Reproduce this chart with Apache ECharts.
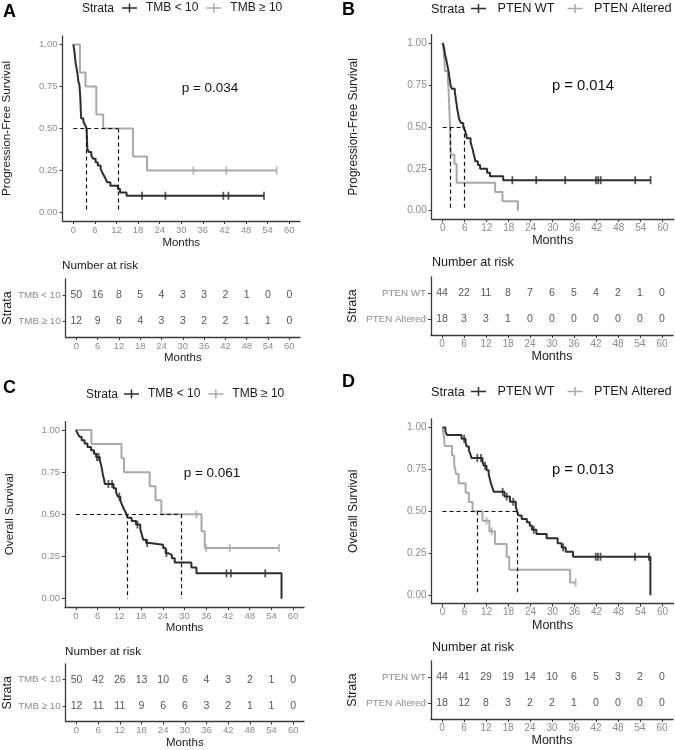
<!DOCTYPE html>
<html><head><meta charset="utf-8">
<script src="https://cdn.jsdelivr.net/npm/echarts@6/dist/echarts.min.js"></script>
<style>html,body{margin:0;padding:0;background:#fff}#c{width:675px;height:750px}</style>
</head><body><div id="c"></div>
<script>
// ---------- shared ticks ----------
const months = [0,6,12,18,24,30,36,42,48,54,60];
const survTicks = [0,0.25,0.5,0.75,1];

// ---------- Panel A : PFS by TMB ----------
const aGroups = ['TMB < 10','TMB ≥ 10'];
const aLowT = [0,0.3,0.5,0.7,0.9,1.2,1.4,1.7,1.9,2.0,2.1,2.2,2.8,3.3,3.7,3.8,3.9,4.3,5.0,5.5,6.2,6.8,7.6,8.0,8.5,9.0,9.4,10.3,12.4,13.0,14.8];
const aLowS = [1,0.96,0.92,0.88,0.86,0.82,0.78,0.76,0.70,0.66,0.60,0.56,0.54,0.52,0.50,0.44,0.38,0.36,0.34,0.32,0.30,0.28,0.26,0.24,0.22,0.20,0.18,0.16,0.14,0.12,0.10];
const aLowEnd = 53.0;
const aLowCens = [19.1,25.6,41.7,43.1,53.0];
const aHighT = [0,1.85,3.4,6.4,8.3,16.6,20.5];
const aHighS = [1,0.833,0.75,0.583,0.5,0.333,0.25];
const aHighEnd = 56.5;
const aHighCens = [33.4,42.5,56.5];
const aMedians = [3.7,12.4];
const aRiskLow  = [50,16,8,5,4,3,3,2,1,0,0];
const aRiskHigh = [12,9,6,4,3,3,2,2,1,1,0];
const aP = 'p = 0.034';

// ---------- Panel B : PFS by PTEN ----------
const bGroups = ['PTEN WT','PTEN Altered'];
const bWtT = [0,0.3,0.5,0.6,0.9,1.1,1.3,1.5,1.7,1.8,2.0,2.1,2.5,3.3,3.5,3.6,3.8,3.9,4.1,4.3,4.5,5.0,5.6,6.1,6.4,6.6,7.6,7.9,8.2,8.4,8.7,8.9,9.6,10.2,12.1,12.9,16.5];
const bWtS = [1,0.977,0.955,0.932,0.909,0.886,0.864,0.841,0.818,0.795,0.773,0.75,0.727,0.705,0.682,0.659,0.636,0.614,0.591,0.568,0.545,0.523,0.5,0.477,0.455,0.432,0.409,0.386,0.364,0.341,0.318,0.295,0.273,0.25,0.227,0.205,0.182];
const bWtEnd = 56.7;
const bWtCens = [19.0,25.5,33.4,41.8,42.4,43.1,52.5,56.7];
const bAltT = [0,0.3,0.5,0.6,1.4,1.6,1.7,1.8,1.9,2.0,2.05,2.1,2.2,3.2,3.8,14.3,16.3,20.5];
const bAltS = [1,0.944,0.889,0.833,0.778,0.722,0.667,0.611,0.556,0.5,0.444,0.389,0.333,0.278,0.167,0.111,0.056,0];
const bAltEnd = 20.5;
const bAltCens = [];
const bMedians = [2.1,5.9];
const bRiskWt  = [44,22,11,8,7,6,5,4,2,1,0];
const bRiskAlt = [18,3,3,1,0,0,0,0,0,0,0];
const bP = 'p = 0.014';

// ---------- Panel C : OS by TMB ----------
const cLowT = [0,0.5,1.0,1.6,2.4,3.2,4.2,5.0,5.6,6.6,6.9,7.1,7.3,7.5,7.8,8.0,10.4,11.1,11.6,12.3,12.8,13.3,13.8,14.3,15.4,16.6,17.8,18.2,18.6,19.4,20.4,24.1,24.8,25.5,26.5,27.3,31.9,33.3,56.8];
const cLowS = [1,0.98,0.96,0.94,0.92,0.90,0.88,0.86,0.84,0.82,0.80,0.78,0.755,0.73,0.705,0.68,0.655,0.63,0.605,0.58,0.555,0.53,0.51,0.48,0.46,0.44,0.41,0.38,0.35,0.33,0.32,0.30,0.27,0.26,0.24,0.215,0.185,0.15,0];
const cLowEnd = 56.8;
const cLowCens = [5.8,6.3,9.0,10.0,12.0,17.0,19.7,25.0,41.6,42.8,52.3];
const cHighT = [0,4.3,12.6,13.3,20.4,22.0,23.6,34.7,35.6];
const cHighS = [1,0.917,0.833,0.75,0.667,0.583,0.5,0.4,0.3];
const cHighEnd = 56.1;
const cHighCens = [33.3,36.0,42.5,56.1];
const cMedians = [14.3,29.2];
const cRiskLow  = [50,42,26,13,10,6,4,3,2,1,0];
const cRiskHigh = [12,11,11,9,6,6,3,2,1,1,0];
const cP = 'p = 0.061';

// ---------- Panel D : OS by PTEN ----------
const dWtT = [0,0.8,1.2,5.2,6.3,6.6,7.2,7.6,7.9,10.9,11.3,12.0,12.6,12.9,13.2,13.6,14.0,16.9,18.4,20.0,20.4,20.8,21.6,23.0,23.8,24.4,25.6,28.4,31.4,32.5,33.6,35.6,56.7];
const dWtS = [1,0.977,0.955,0.932,0.909,0.886,0.864,0.841,0.818,0.795,0.771,0.745,0.72,0.694,0.668,0.642,0.616,0.588,0.557,0.527,0.496,0.475,0.455,0.435,0.414,0.39,0.365,0.34,0.31,0.285,0.26,0.23,0];
const dWtEnd = 56.7;
const dWtCens = [5.9,9.5,10.5,11.6,16.4,17.5,19.3,24.9,32.9,41.8,42.4,43.1,52.5,56.3];
const dAltT = [0,0.4,0.6,2.6,3.2,3.7,4.4,6.3,7.2,8.2,10.9,12.8,14.3,17.5,18.2,34.8];
const dAltS = [1,0.944,0.889,0.833,0.778,0.722,0.667,0.611,0.556,0.5,0.444,0.381,0.305,0.229,0.152,0.076];
const dAltEnd = 36.3;
const dAltCens = [12.0,13.4,36.3];
const dMedians = [9.5,20.45];
const dRiskWt  = [44,41,29,19,14,10,6,5,3,2,0];
const dRiskAlt = [18,12,8,3,2,2,1,0,0,0,0];
const dP = 'p = 0.013';

// ---------- styling / layout ----------
const FONT = '"Liberation Sans", Arial, sans-serif';
const DARK = '#2e2e2e', LIGHT = '#a9a9a9', AXIS = '#3a3a3a', TICKLAB = '#8c8c8c', TXT = '#1a1a1a';
const ICON = 'path://M0,4L16,4L16,5.6L0,5.6Z M7.2,0L8.8,0L8.8,9.6L7.2,9.6Z';

// font sets: left column and right column (right column text is set slightly larger)
const FS_L = {legend:12, p:13.5, months:11.5, nr:11.7, tick:9.5, ytitle:11.7, legPad:4, legGap:8, legW:15};
const FS_R = {legend:12.7, p:14.8, months:12.5, nr:12.6, tick:10, ytitle:11.9, legPad:6, legGap:13, legW:16};

const panels = [
  {letter:'A', lp:[3,12], groups:aGroups, yName:'Progression-Free Survival', fs:FS_L,
   main:{left:62,top:36,width:238,height:185}, risk:{left:62,top:279,width:238,height:58},
   xGap:15.5, rxGap:14.5, yGap:49.5, sGap:50,
   curves:[{T:aLowT,S:aLowS,end:aLowEnd,cens:aLowCens,color:DARK,z:4},{T:aHighT,S:aHighS,end:aHighEnd,cens:aHighCens,color:LIGHT,z:3}],
   medians:aMedians, riskRows:[aRiskLow,aRiskHigh], p:aP, pPos:[210,88],
   strataPos:[82,9], legendPos:[122,9], nrPos:[62,266]},
  {letter:'B', lp:[342,10], groups:bGroups, yName:'Progression-Free Survival', fs:FS_R,
   main:{left:431.7,top:34.6,width:242,height:184.5}, risk:{left:431,top:277,width:242,height:58},
   xGap:15, rxGap:14, yGap:72, sGap:72,
   curves:[{T:bWtT,S:bWtS,end:bWtEnd,cens:bWtCens,color:DARK,z:4},{T:bAltT,S:bAltS,end:bAltEnd,cens:bAltCens,color:LIGHT,z:3}],
   medians:bMedians, riskRows:[bRiskWt,bRiskAlt], p:bP, pPos:[583,86],
   strataPos:[431,9], legendPos:[471,9], nrPos:[432,263]},
  {letter:'C', lp:[3,388], groups:aGroups, yName:'Overall Survival', fs:FS_L,
   main:{left:65,top:421.6,width:239,height:185.5}, risk:{left:65,top:664,width:239,height:58},
   xGap:15, rxGap:15.5, yGap:49.5, sGap:50,
   curves:[{T:cLowT,S:cLowS,end:cLowEnd,cens:cLowCens,color:DARK,z:4},{T:cHighT,S:cHighS,end:cHighEnd,cens:cHighCens,color:LIGHT,z:3}],
   medians:cMedians, riskRows:[cRiskLow,cRiskHigh], p:cP, pPos:[212,473],
   strataPos:[86,395], legendPos:[124,395], nrPos:[65,652]},
  {letter:'D', lp:[342,382], groups:bGroups, yName:'Overall Survival', fs:FS_R,
   main:{left:431.5,top:419,width:242,height:184.7}, risk:{left:431,top:661,width:242,height:58},
   xGap:14.5, rxGap:14.5, yGap:72, sGap:72,
   curves:[{T:dWtT,S:dWtS,end:dWtEnd,cens:dWtCens,color:DARK,z:4},{T:dAltT,S:dAltS,end:dAltEnd,cens:dAltCens,color:LIGHT,z:3}],
   medians:dMedians, riskRows:[dRiskWt,dRiskAlt], p:dP, pPos:[583,470],
   strataPos:[431,392], legendPos:[471,392], nrPos:[432,648]}
];

function stepData(T, S, end) {
  const d = T.map((t, i) => [t, S[i]]);
  if (end != null && end > T[T.length - 1]) d.push([end, S[S.length - 1]]);
  return d;
}
function survAt(T, S, t) {
  let v = S[0];
  for (let i = 0; i < T.length; i++) if (T[i] <= t) v = S[i];
  return v;
}

const grid = [], xAxis = [], yAxis = [], series = [], legend = [], graphic = [];
const axisLine = {show:true, onZero:false, lineStyle:{color:AXIS, width:1.3}};
const tickStyle = {color:AXIS, width:1};

panels.forEach((p, i) => {
  const mi = 2 * i, ri = 2 * i + 1, fs = p.fs;
  grid.push(Object.assign({}, p.main), Object.assign({}, p.risk));
  const xBase = (gi, gap) => ({
    gridIndex: gi, type:'value', min:-3, max:63,
    name:'Months', nameLocation:'middle', nameGap:gap,
    nameTextStyle:{fontSize:fs.months, color:TXT, fontFamily:FONT},
    axisLine: axisLine,
    axisTick:{show:true, length:3, customValues:months, lineStyle:tickStyle},
    axisLabel:{show:true, customValues:months, fontSize:fs.tick, color:TICKLAB, margin:4, fontFamily:FONT},
    splitLine:{show:false}
  });
  xAxis.push(xBase(mi, p.xGap), xBase(ri, p.rxGap));
  yAxis.push({
    gridIndex: mi, type:'value', min:-0.05, max:1.05,
    name:p.yName, nameLocation:'middle', nameGap:p.yGap,
    nameTextStyle:{fontSize:fs.ytitle, color:TXT, fontFamily:FONT},
    axisLine: axisLine,
    axisTick:{show:true, length:3, customValues:survTicks, lineStyle:tickStyle},
    axisLabel:{show:true, customValues:survTicks, formatter:v => Number(v).toFixed(2), fontSize:fs.tick, color:TICKLAB, margin:5, fontFamily:FONT},
    splitLine:{show:false}
  });
  yAxis.push({
    gridIndex: ri, type:'value', min:0.4, max:2.6, inverse:true,
    name:'Strata', nameLocation:'middle', nameGap:p.sGap,
    nameTextStyle:{fontSize:12.5, color:TXT, fontFamily:FONT},
    axisLine: axisLine,
    axisTick:{show:true, length:3, customValues:[1,2], lineStyle:tickStyle},
    axisLabel:{show:true, customValues:[1,2], formatter:v => p.groups[Math.round(v) - 1], fontSize:9.8, color:TICKLAB, margin:5, fontFamily:FONT},
    splitLine:{show:false}
  });

  p.curves.forEach((c, k) => {
    const s = {
      type:'line', name:p.groups[k], xAxisIndex:mi, yAxisIndex:mi,
      data: stepData(c.T, c.S, c.end), step:'end', symbol:'none', showSymbol:false,
      lineStyle:{color:c.color, width:2}, itemStyle:{color:c.color}, z:c.z, silent:true
    };
    if (k === 0) {
      const mx = Math.max.apply(null, p.medians);
      const ml = [[{coord:[0,0.5]},{coord:[mx,0.5]}]];
      p.medians.forEach(m => ml.push([{coord:[m,0.5]},{coord:[m,0]}]));
      s.markLine = {silent:true, symbol:'none', label:{show:false},
        lineStyle:{type:[4,3], color:'#111', width:1.2}, data: ml};
    }
    series.push(s);
    series.push({
      type:'scatter', name:p.groups[k], xAxisIndex:mi, yAxisIndex:mi,
      data: c.cens.map(t => [t, survAt(c.T, c.S, t)]),
      symbol:'rect', symbolSize:[1.8,8], itemStyle:{color:c.color}, z:c.z, silent:true
    });
  });

  p.riskRows.forEach((row, k) => {
    series.push({
      type:'scatter', xAxisIndex:ri, yAxisIndex:ri,
      data: months.map((m, j) => [m, k + 1, row[j]]),
      symbolSize:1, itemStyle:{color:'rgba(0,0,0,0)'}, silent:true,
      label:{show:true, position:'inside', formatter:q => String(q.value[2]), fontSize:10.5, color:'#2a2a2a', fontFamily:FONT}
    });
  });

  legend.push({
    left:p.legendPos[0], top:p.legendPos[1] - 7, padding:0, itemWidth:fs.legW, itemHeight:9, itemGap:fs.legGap,
    selectedMode:false, orient:'horizontal',
    textStyle:{fontSize:fs.legend, color:TXT, fontFamily:FONT, padding:[0,0,0,fs.legPad]},
    data: p.groups.map((g, k) => ({name:g, icon:ICON, itemStyle:{color:p.curves[k].color, borderWidth:0}}))
  });

  graphic.push(
    {type:'text', x:p.lp[0], y:p.lp[1], silent:true, style:{text:p.letter, fill:'#000', font:'bold 18px ' + FONT, align:'left', verticalAlign:'middle'}},
    {type:'text', x:p.strataPos[0], y:p.strataPos[1], silent:true, style:{text:'Strata', fill:TXT, font:fs.legend + 'px ' + FONT, align:'left', verticalAlign:'middle'}},
    {type:'text', x:p.pPos[0], y:p.pPos[1], silent:true, style:{text:p.p, fill:'#111', font:fs.p + 'px ' + FONT, align:'center', verticalAlign:'middle'}},
    {type:'text', x:p.nrPos[0], y:p.nrPos[1], silent:true, style:{text:'Number at risk', fill:TXT, font:fs.nr + 'px ' + FONT, align:'left', verticalAlign:'middle'}}
  );
});

const chart = echarts.init(document.getElementById('c'), null, {renderer:'canvas'});
chart.setOption({
  animation:false,
  backgroundColor:'#fff',
  textStyle:{fontFamily:FONT},
  grid, xAxis, yAxis, series, legend, graphic
});
</script>
</body></html>
